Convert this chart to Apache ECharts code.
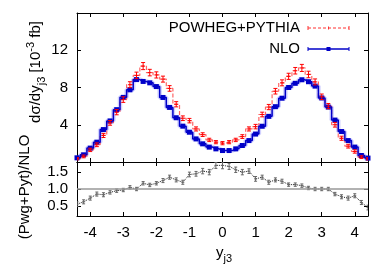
<!DOCTYPE html>
<html><head><meta charset="utf-8">
<script src="https://cdn.jsdelivr.net/npm/echarts@6/dist/echarts.min.js"></script>
<style>html,body{margin:0;padding:0;background:#fff}#c{width:386px;height:270px}</style>
</head><body><div id="c"></div>
<script>
// bin centres in y_j3
const yj3 = [-4.4,-4.2,-4.0,-3.8,-3.6,-3.4,-3.2,-3.0,-2.8,-2.6,-2.4,-2.2,-2.0,-1.8,-1.6,-1.4,-1.2,-1.0,-0.8,-0.6,-0.4,-0.2,0.0,
  0.2,0.4,0.6,0.8,1.0,1.2,1.4,1.6,1.8,2.0,2.2,2.4,2.6,2.8,3.0,3.2,3.4,3.6,3.8,4.0,4.2,4.4];
// NLO  dσ/dy [10^-3 fb]
const nlo = [0.45,0.77,1.49,2.13,3.48,4.41,5.62,6.94,7.75,8.85,8.65,8.5,8.1,6.93,5.86,4.75,3.85,3.2,2.48,1.95,1.6,1.41,1.23,
  1.23,1.41,1.77,2.3,3.0,3.84,4.9,5.94,6.85,8.0,8.45,8.83,8.62,8.15,6.88,5.9,4.5,3.27,2.3,1.6,0.7,0.42];
// POWHEG+PYTHIA
const pwg = [0.35,0.6,1.3,1.85,2.85,4.2,5.35,6.7,8.3,9.3,10.3,9.6,9.35,8.9,7.9,6.2,4.7,4.44,3.55,2.94,2.37,2.13,2.02,
  2.13,2.37,2.73,3.55,3.8,5.1,5.9,7.6,8.5,9.2,9.8,10.1,9.4,8.6,7.0,6.0,4.0,2.55,1.7,1.13,0.52,0.34];
const pwgErr = [0.12,0.15,0.18,0.2,0.22,0.25,0.28,0.3,0.32,0.35,0.38,0.35,0.33,0.32,0.3,0.28,0.25,0.24,0.22,0.2,0.18,0.17,0.17,
  0.17,0.18,0.2,0.22,0.24,0.25,0.28,0.3,0.32,0.33,0.35,0.38,0.35,0.32,0.3,0.28,0.25,0.22,0.2,0.18,0.15,0.12];
// ratio (Pwg+Pyt)/NLO
const ratio = [0.55,0.62,0.73,0.85,0.83,0.9,0.95,0.97,1.05,1.0,1.17,1.12,1.17,1.25,1.35,1.27,1.2,1.43,1.45,1.53,1.5,1.7,1.7,
  1.67,1.57,1.5,1.53,1.3,1.35,1.2,1.27,1.23,1.13,1.13,1.1,1.03,1.0,1.0,1.0,0.85,0.77,0.73,0.8,0.6,0.45];
const ratioErr = [0.07,0.06,0.06,0.06,0.06,0.05,0.05,0.05,0.05,0.05,0.05,0.05,0.05,0.06,0.06,0.06,0.06,0.07,0.07,0.08,0.08,0.09,0.1,
  0.09,0.08,0.08,0.07,0.07,0.06,0.06,0.06,0.06,0.05,0.05,0.05,0.05,0.05,0.05,0.05,0.05,0.06,0.06,0.06,0.06,0.07];
const xTicks = [-4,-3,-2,-1,0,1,2,3,4];
const yTicksTop = [4,8,12];
const yTicksRatio = [0.5,1.0,1.5];

const FONT = "'Liberation Sans', Arial, Helvetica, sans-serif";
const pairs = (xs, ys) => xs.map((x, i) => [x, ys[i]]);
const triples = (xs, ys, es) => xs.map((x, i) => [x, ys[i], es[i]]);

function xAx(grid, pos, labels) {
  return {type:'value', gridIndex:grid, position:pos, min:-4.4, max:4.4,
    axisLine:{show:true, onZero:false, lineStyle:{color:'#000', width:1}},
    axisTick:{show:true, inside:true, length:4, customValues:xTicks, lineStyle:{color:'#000'}},
    axisLabel:{show:labels, customValues:xTicks, margin:9, fontSize:15, fontFamily:FONT, color:'#000', formatter:v=>String(v)},
    splitLine:{show:false}};
}
function yAx(grid, pos, min, max, ticks, labels, fmt) {
  return {type:'value', gridIndex:grid, position:pos, min:min, max:max,
    axisLine:{show:true, onZero:false, lineStyle:{color:'#000', width:1}},
    axisTick:{show:true, inside:true, length:4, customValues:ticks, lineStyle:{color:'#000'}},
    axisLabel:{show:labels, customValues:ticks, margin:9, fontSize:15, fontFamily:FONT, color:'#000', formatter:fmt},
    splitLine:{show:false}};
}
function errRender(color, cap, lw) {
  return function(params, api) {
    const x = api.value(0), y = api.value(1), e = api.value(2);
    const c = api.coord([x, y]), hi = api.coord([x, y + e]), lo = api.coord([x, y - e]);
    const st = {stroke:color, lineWidth:lw};
    return {type:'group', children:[
      {type:'line', shape:{x1:c[0], y1:hi[1], x2:c[0], y2:lo[1]}, style:st},
      {type:'line', shape:{x1:c[0]-cap, y1:hi[1], x2:c[0]+cap, y2:hi[1]}, style:st},
      {type:'line', shape:{x1:c[0]-cap, y1:lo[1], x2:c[0]+cap, y2:lo[1]}, style:st},
      {type:'line', shape:{x1:c[0]-cap, y1:c[1], x2:c[0]+cap, y2:c[1]}, style:st}
    ]};
  };
}

const chart = echarts.init(document.getElementById('c'), null, {renderer:'canvas'});
chart.setOption({
  animation:false,
  backgroundColor:'#fff',
  textStyle:{fontFamily:FONT},
  grid:[
    {left:77, right:18, top:13, height:149, containLabel:false, outerBoundsMode:'none'},
    {left:77, right:18, top:162, height:54, containLabel:false, outerBoundsMode:'none'}
  ],
  xAxis:[xAx(0,'bottom',false), xAx(0,'top',false), xAx(1,'bottom',true), xAx(1,'top',false)],
  yAxis:[
    yAx(0,'left',0,16,yTicksTop,true,v=>String(v)),
    yAx(0,'right',0,16,yTicksTop,false,v=>String(v)),
    yAx(1,'left',0.2,1.8,yTicksRatio,true,v=>v.toFixed(1)),
    yAx(1,'right',0.2,1.8,yTicksRatio,false,v=>v.toFixed(1))
  ],
  series:[
    {type:'line', name:'NLO band', xAxisIndex:0, yAxisIndex:0, data:pairs(yj3,nlo), step:'middle', symbol:'none',
      lineStyle:{color:'#7a7aff', width:4.5, opacity:0.35}, z:1, silent:true},
    {type:'line', name:'POWHEG+PYTHIA', xAxisIndex:0, yAxisIndex:0, data:pairs(yj3,pwg), step:'middle', symbol:'none',
      lineStyle:{color:'#ff3030', width:1.2, type:[4,2], opacity:0.75}, z:2, silent:true},
    {type:'line', name:'NLO', xAxisIndex:0, yAxisIndex:0, data:pairs(yj3,nlo), step:'middle', symbol:'rect', symbolSize:5,
      itemStyle:{color:'#0000c8'}, lineStyle:{color:'#0000c8', width:1.5}, z:3, silent:true},
    {type:'custom', name:'POWHEG err', xAxisIndex:0, yAxisIndex:0, data:triples(yj3,pwg,pwgErr), clip:true,
      renderItem:errRender('#ff0000',2,1), z:4, silent:true},
    {type:'line', name:'ratio', xAxisIndex:2, yAxisIndex:2, data:pairs(yj3,ratio), symbol:'none',
      lineStyle:{color:'#222', width:1, type:'dotted'}, z:3, silent:true,
      markLine:{silent:true, symbol:'none', label:{show:false}, data:[{yAxis:1.0}],
        lineStyle:{color:'#999', type:'solid', width:1.5}}},
    {type:'custom', name:'ratio err', xAxisIndex:2, yAxisIndex:2, data:triples(yj3,ratio,ratioErr), clip:true,
      renderItem:errRender('#666',1.5,1), z:4, silent:true}
  ],
  graphic:[
    {type:'text', x:300, y:28, style:{text:'POWHEG+PYTHIA', align:'right', verticalAlign:'middle', font:'15px '+FONT, fill:'#000'}},
    {type:'line', shape:{x1:308, y1:28, x2:349, y2:28}, style:{stroke:'#ff3030', lineWidth:1, lineDash:[3,2]}},
    {type:'line', shape:{x1:308, y1:26, x2:308, y2:30}, style:{stroke:'#ff3030', lineWidth:1}},
    {type:'line', shape:{x1:349, y1:26, x2:349, y2:30}, style:{stroke:'#ff3030', lineWidth:1}},
    {type:'line', shape:{x1:328.5, y1:26.5, x2:328.5, y2:29.5}, style:{stroke:'#ff3030', lineWidth:1}},
    {type:'text', x:300, y:49, style:{text:'NLO', align:'right', verticalAlign:'middle', font:'15px '+FONT, fill:'#000'}},
    {type:'line', shape:{x1:308, y1:49, x2:349, y2:49}, style:{stroke:'#0000c8', lineWidth:1.5}},
    {type:'line', shape:{x1:308, y1:47, x2:308, y2:51}, style:{stroke:'#0000c8', lineWidth:1}},
    {type:'line', shape:{x1:349, y1:47, x2:349, y2:51}, style:{stroke:'#0000c8', lineWidth:1}},
    {type:'rect', shape:{x:326.5, y:47, width:4, height:4}, style:{fill:'#0000c8'}},
    {type:'text', x:36, y:72, rotation:Math.PI/2, style:{
      text:'{n|dσ/dy}{sub|j3}{n| [10}{sup|-3}{n| fb]}', align:'center', verticalAlign:'middle',
      rich:{n:{fontSize:15, fontFamily:FONT, lineHeight:22, fill:'#000'},
            sub:{fontSize:11, fontFamily:FONT, lineHeight:13, verticalAlign:'bottom', fill:'#000'},
            sup:{fontSize:11, fontFamily:FONT, lineHeight:13, verticalAlign:'top', fill:'#000'}}}},
    {type:'text', x:24.5, y:187, rotation:Math.PI/2, style:{
      text:'(Pwg+Pyt)/NLO', align:'center', verticalAlign:'middle', font:'15px '+FONT, fill:'#000'}},
    {type:'text', x:224, y:253, style:{
      text:'{n|y}{sub|j3}', align:'center', verticalAlign:'middle',
      rich:{n:{fontSize:15, fontFamily:FONT, lineHeight:22, fill:'#000'},
            sub:{fontSize:11, fontFamily:FONT, lineHeight:13, verticalAlign:'bottom', fill:'#000'}}}}
  ]
});
</script></body></html>
